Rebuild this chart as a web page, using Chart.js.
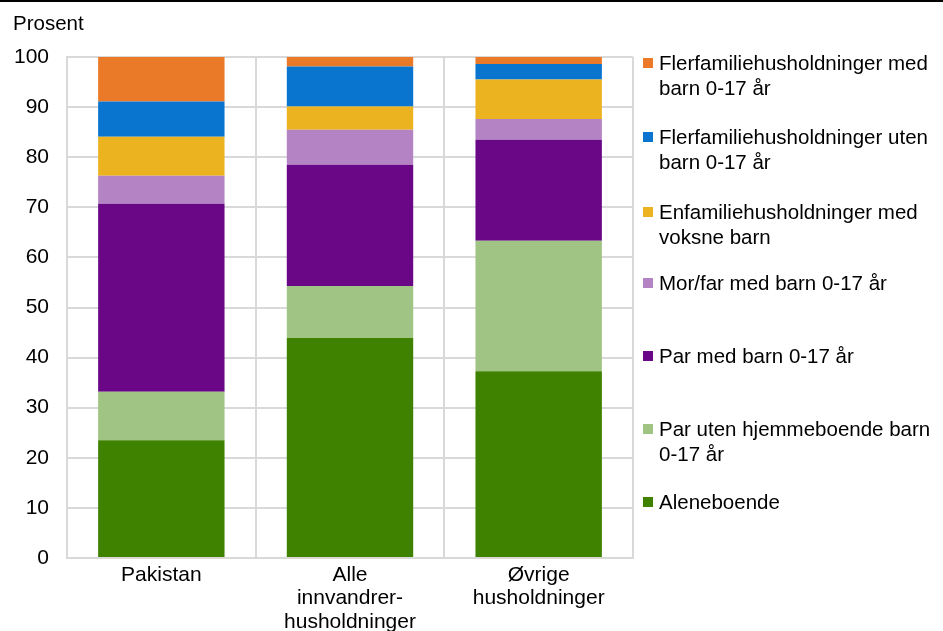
<!DOCTYPE html>
<html>
<head>
<meta charset="utf-8">
<script src="https://cdn.jsdelivr.net/npm/chart.js@4"></script>
<style>
	body { margin: 0; background: #fff; font-family: "Liberation Sans", Arial, sans-serif; }
	#wrap { position: relative; width: 943px; height: 631px; border-top: 2px solid #000; box-sizing: border-box; }
	#chart_canvas { position: absolute; left: 0; top: 0; }
	#unit { position: absolute; left: 13px; top: 9px; font-size: 20.5px; color: #000; }
	#legend { position: absolute; left: 643px; top: 0; }
	.item { position: absolute; left: 0; width: 300px; font-size: 20.5px; line-height: 25px; color: #000; }
	.item .box { position: absolute; left: 0; top: 8px; width: 10px; height: 10px; }
	.item .txt { margin-left: 16px; display: block; white-space: nowrap; }
</style>
</head>
<body>
<div id="wrap">
	<canvas id="chart_canvas" width="943" height="629"></canvas>
	<div id="unit">Prosent</div>
	<div id="legend"></div>
</div>
<script>
const categories = [['Pakistan'], ['Alle', 'innvandrer-', 'husholdninger'], ['Øvrige', 'husholdninger']];
const series_names = [
	'Aleneboende',
	'Par uten hjemmeboende barn 0-17 år',
	'Par med barn 0-17 år',
	'Mor/far med barn 0-17 år',
	'Enfamiliehusholdninger med voksne barn',
	'Flerfamiliehusholdninger uten barn 0-17 år',
	'Flerfamiliehusholdninger med barn 0-17 år'
];
const aleneboende = [23.5, 43.9, 37.3];
const par_uten = [9.7, 10.4, 26.0];
const par_med = [37.5, 24.2, 20.2];
const mor_far = [5.6, 7.0, 4.1];
const enfamilie = [7.8, 4.6, 7.9];
const flerfam_uten = [7.0, 8.0, 3.1];
const flerfam_med = [8.9, 1.9, 1.4];
const y_ticks = [0, 10, 20, 30, 40, 50, 60, 70, 80, 90, 100];

const colors = ['#3E8200', '#A0C483', '#690786', '#B383C3', '#EBB320', '#0A75CF', '#EB7A28'];
const values = [aleneboende, par_uten, par_med, mor_far, enfamilie, flerfam_uten, flerfam_med];

// legend lines as shown, top series first
const legend_lines = [
	['Flerfamiliehusholdninger med', 'barn 0-17 år'],
	['Flerfamiliehusholdninger uten', 'barn 0-17 år'],
	['Enfamiliehusholdninger med', 'voksne barn'],
	['Mor/far med barn 0-17 år'],
	['Par med barn 0-17 år'],
	['Par uten hjemmeboende barn', '0-17 år'],
	['Aleneboende']
];
const legend_top = [48, 122, 197, 268, 341, 414, 487];

const ctx = document.getElementById('chart_canvas').getContext('2d');

let datasets = values.map((v, i) => ({
	label: series_names[i],
	data: v,
	backgroundColor: colors[i],
	borderWidth: 0,
	categoryPercentage: 1,
	barPercentage: 0.67
}));

let chart = new Chart(ctx, {
	type: 'bar',
	data: { labels: categories, datasets: datasets },
	options: {
		responsive: false,
		animation: false,
		layout: { padding: { top: 55, right: 310, bottom: 0, left: 0 } },
		plugins: { legend: { display: false }, tooltip: { enabled: false } },
		scales: {
			x: {
				stacked: true,
				grid: { color: '#D9D9D9', lineWidth: 2, drawTicks: false },
				border: { color: '#D9D9D9', width: 2 },
				ticks: { color: '#000', font: { family: 'Liberation Sans', size: 21, lineHeight: 1.1 }, padding: 6, maxRotation: 0 },
				afterFit: function(axis) { axis.height = 73; }
			},
			y: {
				stacked: true,
				min: 0,
				max: 100,
				afterBuildTicks: function(axis) { axis.ticks = y_ticks.map(v => ({ value: v })); },
				grid: { color: '#D9D9D9', lineWidth: 2, drawTicks: false },
				border: { color: '#D9D9D9', width: 2 },
				ticks: { color: '#000', font: { family: 'Liberation Sans', size: 21 }, padding: 18 },
				afterFit: function(axis) { axis.width = 67; }
			}
		}
	}
});

let legend = document.getElementById('legend');
legend_lines.forEach((lines, i) => {
	let ci = colors.length - 1 - i;
	let item = document.createElement('div');
	item.className = 'item';
	item.style.top = legend_top[i] + 'px';
	item.innerHTML = `<span class="box" style="background:${colors[ci]}"></span><span class="txt">${lines.join('<br>')}</span>`;
	legend.appendChild(item);
});
</script>
</body>
</html>
